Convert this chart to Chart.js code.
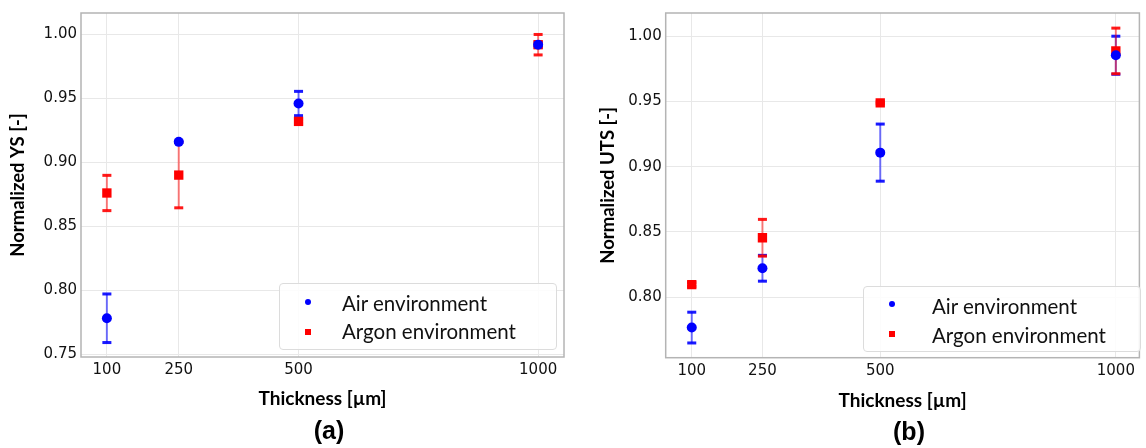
<!DOCTYPE html>
<html>
<head>
<meta charset="utf-8">
<script src="https://cdn.jsdelivr.net/npm/chart.js@4.4.0/dist/chart.umd.min.js"></script>
<style>
  body { margin: 0; background: #fff; width: 1146px; height: 448px; position: relative; overflow: hidden; font-family: Lato, sans-serif; }
  canvas { position: absolute; top: 0; }
  .legend { position: absolute; border: 1px solid #dcdcdc; border-radius: 4px; background: rgba(255,255,255,0.85); box-sizing: border-box; }
  .legend-item { position: absolute; font-size: 20.5px; color: #111; white-space: nowrap; line-height: 20px; }
  .marker { position: absolute; }
  .panel-label { position: absolute; font-family: "Liberation Sans", Arial, sans-serif; font-weight: bold; font-size: 25px; color: #000; transform: translate(-50%, -50%); }
</style>
</head>
<body>
<canvas id="chartYS" width="573" height="448" style="left:0"></canvas>
<canvas id="chartUTS" width="573" height="448" style="left:573px"></canvas>
<div class="panel-label" style="left:329px; top:430px">(a)</div>
<div class="panel-label" style="left:909px; top:431px">(b)</div>

<script>
// thickness values (x) and ticks
const thickness = [100, 250, 500, 1000];
const thicknessTicks = [100, 250, 500, 1000];

// normalized yield strength, panel (a)
const ysAir = [0.778, 0.916, 0.946, 0.992];
const ysAirErr = [0.019, 0.0005, 0.0095, 0.002];
const ysArgon = [0.876, 0.890, 0.932, 0.992];
const ysArgonErr = [0.0138, 0.0256, 0.0015, 0.008];
const ysTicks = [0.75, 0.80, 0.85, 0.90, 0.95, 1.00];

// normalized UTS, panel (b)
const utsAir = [0.7766, 0.8221, 0.9108, 0.9855];
const utsAirErr = [0.0118, 0.0099, 0.0219, 0.0146];
const utsArgon = [0.8096, 0.8455, 0.949, 0.9888];
const utsArgonErr = [0.0015, 0.0141, 0.0008, 0.0175];
const utsTicks = [0.80, 0.85, 0.90, 0.95, 1.00];

const seriesLabels = ["Air environment", "Argon environment"];

const BLUE = "#0000ff";
const RED = "#ff0000";

// draws vertical error bars with caps, under the markers
const errorBars = {
  id: "errorBars",
  beforeDatasetsDraw(chart) {
    const { ctx, scales: { x, y } } = chart;
    chart.data.datasets.forEach((ds) => {
      ds.data.forEach((pt, i) => {
        const err = ds.errors[i];
        const px = x.getPixelForValue(pt.x);
        const top = y.getPixelForValue(pt.y + err);
        const bot = y.getPixelForValue(pt.y - err);
        ctx.save();
        ctx.strokeStyle = ds.lineColor;
        ctx.lineWidth = 2;
        ctx.beginPath();
        ctx.moveTo(px, top);
        ctx.lineTo(px, bot);
        ctx.stroke();
        ctx.fillStyle = ds.capColor;
        ctx.fillRect(px - 4.5, top - 1.5, 9, 3);
        ctx.fillRect(px - 4.5, bot - 1.5, 9, 3);
        ctx.restore();
      });
    });
  },
};

// grey box round the plot area
const frame = {
  id: "frame",
  beforeDatasetsDraw(chart) {
    const { ctx, chartArea: a } = chart;
    ctx.save();
    ctx.strokeStyle = "#b4b4b4";
    ctx.lineWidth = 1.5;
    ctx.strokeRect(a.left, a.top, a.right - a.left, a.bottom - a.top);
    ctx.restore();
  },
};

function makeDataset(label, xs, ys, errs, color, style, radius, lineColor, capColor) {
  return {
    label: label,
    data: xs.map((v, i) => ({ x: v, y: ys[i] })),
    errors: errs,
    pointStyle: style,
    pointRadius: radius,
    backgroundColor: color,
    borderColor: color,
    borderWidth: 0,
    lineColor: lineColor,
    capColor: capColor,
  };
}

function makePanel(id, p) {
  return new Chart(document.getElementById(id), {
    type: "scatter",
    data: {
      datasets: [
        makeDataset(seriesLabels[0], thickness, p.air, p.airErr, BLUE, "circle", 5,
          "rgba(0,0,255,0.55)", "rgba(0,0,255,0.9)"),
        makeDataset(seriesLabels[1], thickness, p.argon, p.argonErr, RED, "rect", 6.6,
          "rgba(255,0,0,0.5)", "rgba(255,0,0,0.9)"),
      ],
    },
    options: {
      responsive: false,
      maintainAspectRatio: false,
      devicePixelRatio: 1,
      animation: false,
      layout: { padding: { top: p.padTop, right: p.padRight, left: 0, bottom: 0 } },
      plugins: { legend: { display: false }, tooltip: { enabled: false } },
      scales: {
        x: {
          type: "linear",
          min: p.xMin,
          max: p.xMax,
          afterBuildTicks: (axis) => { axis.ticks = thicknessTicks.map((v) => ({ value: v })); },
          afterFit: (axis) => { axis.height = p.xHeight; },
          grid: { color: "#e8e8e8", lineWidth: 1, drawTicks: false },
          border: { display: false },
          ticks: {
            autoSkip: false,
            maxRotation: 0,
            padding: 4,
            color: "#111",
            font: { family: "DejaVu Sans", size: 15 },
            callback: (v) => String(v),
          },
          title: {
            display: true,
            text: "Thickness [µm]",
            color: "#000",
            font: { family: "Lato", weight: "bold", size: 19 },
            padding: { top: 0, bottom: p.xTitlePad },
          },
        },
        y: {
          min: p.yMin,
          max: p.yMax,
          afterBuildTicks: (axis) => { axis.ticks = p.yTicks.map((v) => ({ value: v })); },
          afterFit: (axis) => { axis.width = p.yWidth; },
          grid: { color: "#e8e8e8", lineWidth: 1, drawTicks: false },
          border: { display: false },
          ticks: {
            autoSkip: false,
            padding: 4,
            color: "#111",
            font: { family: "DejaVu Sans", size: 15 },
            callback: (v) => v.toFixed(2),
          },
          title: {
            display: true,
            text: p.yTitle,
            color: "#000",
            font: { family: "Lato", weight: "bold", size: 18.5 },
            padding: { top: p.yTitlePad, bottom: 0 },
          },
        },
      },
    },
    plugins: [frame, errorBars],
  });
}

function addLegend(chart, box, rows) {
  const el = document.createElement("div");
  el.className = "legend";
  el.style.left = box.x + "px";
  el.style.top = box.y + "px";
  el.style.width = box.w + "px";
  el.style.height = box.h + "px";
  document.body.appendChild(el);
  chart.data.datasets.forEach((ds, i) => {
    const m = document.createElement("div");
    m.className = "marker";
    m.style.width = "6px";
    m.style.height = "6px";
    m.style.left = (rows.markerX - 3) + "px";
    m.style.top = (rows.y[i] - 3) + "px";
    m.style.background = ds.backgroundColor;
    if (ds.pointStyle === "circle") m.style.borderRadius = "50%";
    document.body.appendChild(m);
    const t = document.createElement("div");
    t.className = "legend-item";
    t.textContent = ds.label;
    t.style.left = rows.textX + "px";
    t.style.top = (rows.textY[i] - 10) + "px";
    document.body.appendChild(t);
  });
}

const chartYS = makePanel("chartYS", {
  air: ysAir, airErr: ysAirErr, argon: ysArgon, argonErr: ysArgonErr,
  yTicks: ysTicks, yMin: 0.7477, yMax: 1.0168, xMin: 46, xMax: 1054,
  padTop: 5, padRight: 9, xHeight: 91, yWidth: 81,
  xTitlePad: 38, yTitlePad: 7, yTitle: "Normalized YS [-]",
});

const chartUTS = makePanel("chartUTS", {
  air: utsAir, airErr: utsAirErr, argon: utsArgon, argonErr: utsArgonErr,
  yTicks: utsTicks, yMin: 0.7535, yMax: 1.0179, xMin: 44.7, xMax: 1050,
  padTop: 7, padRight: 2, xHeight: 90.3, yWidth: 92.7,
  xTitlePad: 36, yTitlePad: 24, yTitle: "Normalized UTS [-]",
});

addLegend(chartYS, { x: 279, y: 283, w: 278, h: 67 },
  { markerX: 308, y: [302, 332], textX: 342, textY: [303, 331] });
addLegend(chartUTS, { x: 863, y: 286, w: 278, h: 66 },
  { markerX: 892, y: [304, 334], textX: 932, textY: [306, 335] });
</script>
</body>
</html>
